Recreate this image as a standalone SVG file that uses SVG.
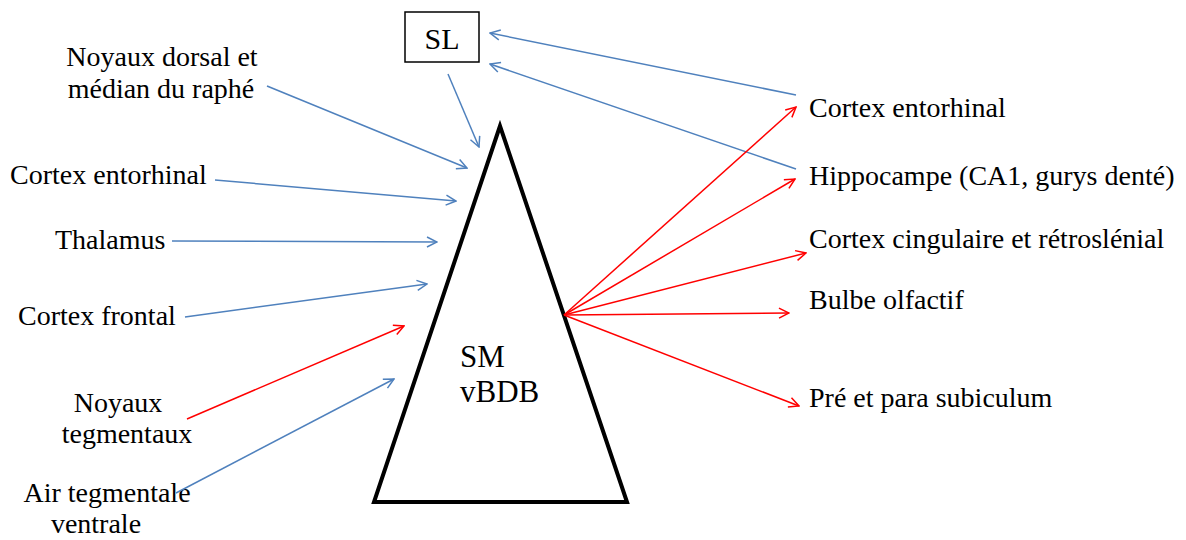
<svg xmlns="http://www.w3.org/2000/svg" width="1186" height="540" viewBox="0 0 1186 540">
<style>
text{font-family:"Liberation Serif","Times New Roman",serif;font-size:28px;fill:#000}
.big{font-size:31px}
.b{stroke:#4f81bd;stroke-width:1.5;fill:none;marker-end:url(#ab)}
.r{stroke:#ff0000;stroke-width:1.5;fill:none;marker-end:url(#ar)}
</style>
<defs>
<marker id="ab" viewBox="0 0 12 12" refX="11" refY="6" markerWidth="12" markerHeight="12" markerUnits="userSpaceOnUse" orient="auto"><path d="M1,1 L11,6 L1,11" fill="none" stroke="#4f81bd" stroke-width="1.5"/></marker>
<marker id="ar" viewBox="0 0 12 12" refX="11" refY="6" markerWidth="12" markerHeight="12" markerUnits="userSpaceOnUse" orient="auto"><path d="M1,1 L11,6 L1,11" fill="none" stroke="#ff0000" stroke-width="1.5"/></marker>
</defs>
<rect width="1186" height="540" fill="#fff"/>
<g id="sm">
<polygon points="500,126 374,502 627,502" fill="#fff" stroke="#000" stroke-width="4" stroke-linejoin="miter"/>
<text class="big" x="460" y="367">SM</text>
<text class="big" x="460" y="402">vBDB</text>
</g>
<g id="sl">
<rect x="405" y="12" width="74" height="50" fill="#fff" stroke="#000" stroke-width="1.5"/>
<text x="442" y="49" text-anchor="middle" style="font-size:30px">SL</text>
</g>
<g id="raphe"><text x="162" y="66" text-anchor="middle">Noyaux dorsal et</text><text x="161" y="98" text-anchor="middle">médian du raphé</text></g>
<g id="ent-l"><text x="10" y="184">Cortex entorhinal</text></g>
<g id="thal"><text x="55" y="249">Thalamus</text></g>
<g id="front"><text x="18" y="325">Cortex frontal</text></g>
<g id="tegm"><text x="118" y="412" text-anchor="middle">Noyaux</text><text x="127" y="443" text-anchor="middle">tegmentaux</text></g>
<g id="atv"><text x="107" y="502" text-anchor="middle">Air tegmentale</text><text x="96" y="533" text-anchor="middle">ventrale</text></g>
<g id="ent-r"><text x="809" y="117">Cortex entorhinal</text></g>
<g id="hip"><text x="809" y="185">Hippocampe (CA1, gurys denté)</text></g>
<g id="cing"><text x="809" y="248">Cortex cingulaire et rétroslénial</text></g>
<g id="bulbe"><text x="809" y="309">Bulbe olfactif</text></g>
<g id="sub"><text x="809" y="407">Pré et para subiculum</text></g>
<g id="connectors">
<line class="b" x1="796" y1="95" x2="490" y2="33"/>
<line class="b" x1="796" y1="169" x2="490" y2="64"/>
<line class="b" x1="448" y1="74" x2="479" y2="147"/>
<line class="b" x1="267" y1="86" x2="467" y2="168"/>
<line class="b" x1="215" y1="180" x2="456" y2="201"/>
<line class="b" x1="172" y1="241" x2="437" y2="242"/>
<line class="b" x1="185" y1="317" x2="427" y2="284"/>
<line class="r" x1="187" y1="419" x2="404" y2="326"/>
<line class="b" x1="176" y1="493" x2="394" y2="379"/>
<line class="r" x1="564" y1="315" x2="796" y2="107"/>
<line class="r" x1="564" y1="315" x2="795" y2="179"/>
<line class="r" x1="564" y1="315" x2="806" y2="253"/>
<line class="r" x1="564" y1="315" x2="789" y2="313"/>
<line class="r" x1="564" y1="315" x2="799" y2="406"/>
</g>
</svg>
